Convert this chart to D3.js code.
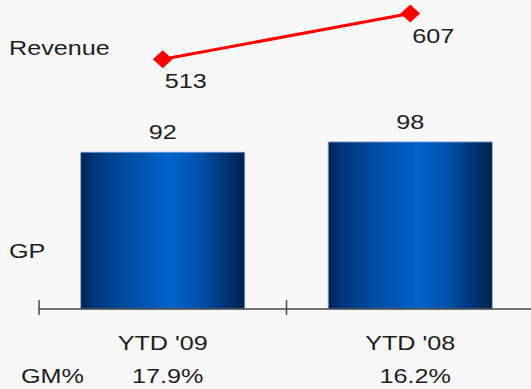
<!DOCTYPE html>
<html>
<head>
<meta charset="utf-8">
<script src="https://cdn.jsdelivr.net/npm/d3@7"></script>
<style>
  body { margin: 0; background: #f8f8f8; }
  svg { display: block; }
  text { font-family: Arial, "Liberation Sans", sans-serif; font-size: 21px; fill: #1e1e1e; }
</style>
</head>
<body>
<div id="chart"></div>
<script>
// Chart data
const categories = ["YTD '09", "YTD '08"];
const gpValues = [92, 98];
const revenueValues = [513, 607];
const gmLabels = ["17.9%", "16.2%"];

const width = 531,
      height = 389;

const svg = d3.select("#chart")
  .append("svg")
  .attr("width", width)
  .attr("height", height);

// Scales: bands between the axis ticks, bars for GP, line for revenue
const x = d3.scaleBand()
  .domain(categories)
  .range([39, 534])
  .paddingInner(0.337)
  .paddingOuter(0.1685);
const step = x.step();
const cx = d => x(d) + x.bandwidth() / 2;

const yGp = d3.scaleLinear().domain([0, 100]).range([309, 138.5]);
const yRev = d3.scaleLinear().domain([0, 607]).range([309, 13.5]);

// Horizontal gradient for the cylinder-like bars
const grad = svg.append("defs").append("linearGradient")
  .attr("id", "barGrad")
  .attr("x1", "0%").attr("x2", "100%")
  .attr("y1", "0%").attr("y2", "0%");
[
  [0, "#002250"], [0.08, "#00367a"], [0.3, "#004fa6"],
  [0.55, "#0062cc"], [0.72, "#0052ac"], [0.9, "#003270"], [1, "#00214c"]
].forEach(([o, c]) => grad.append("stop").attr("offset", o).attr("stop-color", c));

// Helper for stretched text labels
function label(xp, yp, txt, anchor = "middle") {
  svg.append("text")
    .attr("transform", `translate(${xp},${yp}) scale(1.2,1)`)
    .attr("text-anchor", anchor)
    .text(txt);
}

// Bars
svg.selectAll("rect.bar")
  .data(categories)
  .enter()
  .append("rect")
  .attr("class", "bar")
  .attr("x", d => x(d))
  .attr("y", (d, i) => yGp(gpValues[i]))
  .attr("width", x.bandwidth())
  .attr("height", (d, i) => yGp(0) - yGp(gpValues[i]))
  .attr("fill", "url(#barGrad)")
  .attr("stroke", "#8fb0d8")
  .attr("stroke-width", 0.8);

// Axis line and ticks at band boundaries
svg.append("line")
  .attr("x1", 39).attr("x2", width)
  .attr("y1", yGp(0)).attr("y2", yGp(0))
  .attr("stroke", "#4a4a4a").attr("stroke-width", 1.5);
categories.forEach((c, i) => {
  const tx = 39 + i * step;
  svg.append("line")
    .attr("x1", tx).attr("x2", tx)
    .attr("y1", yGp(0) - 9).attr("y2", yGp(0) + 6)
    .attr("stroke", "#4a4a4a").attr("stroke-width", 1.5);
});

// Bar value labels
categories.forEach((c, i) => label(cx(c), yGp(gpValues[i]) - 13, gpValues[i]));

// Revenue line with diamond markers
const line = d3.line()
  .x((d, i) => cx(categories[i]))
  .y(d => yRev(d));
svg.append("path")
  .datum(revenueValues)
  .attr("d", line)
  .attr("fill", "none")
  .attr("stroke", "#ff0000")
  .attr("stroke-width", 3);

svg.selectAll("path.marker")
  .data(revenueValues)
  .enter()
  .append("path")
  .attr("class", "marker")
  .attr("d", d3.symbol(d3.symbolSquare, 160))
  .attr("transform", (d, i) => `translate(${cx(categories[i])},${yRev(d)}) scale(1.1,1) rotate(45)`)
  .attr("fill", "#ff0000");

revenueValues.forEach((v, i) => label(cx(categories[i]) + 23, yRev(v) + 29, v));

// Row captions
label(9, 55, "Revenue", "start");
label(9, 258, "GP", "start");
label(21, 383, "GM%", "start");

// Category and GM% labels
categories.forEach((c, i) => {
  label(cx(c), 350, c);
  label(cx(c) + 5, 383, gmLabels[i]);
});
</script>
</body>
</html>
